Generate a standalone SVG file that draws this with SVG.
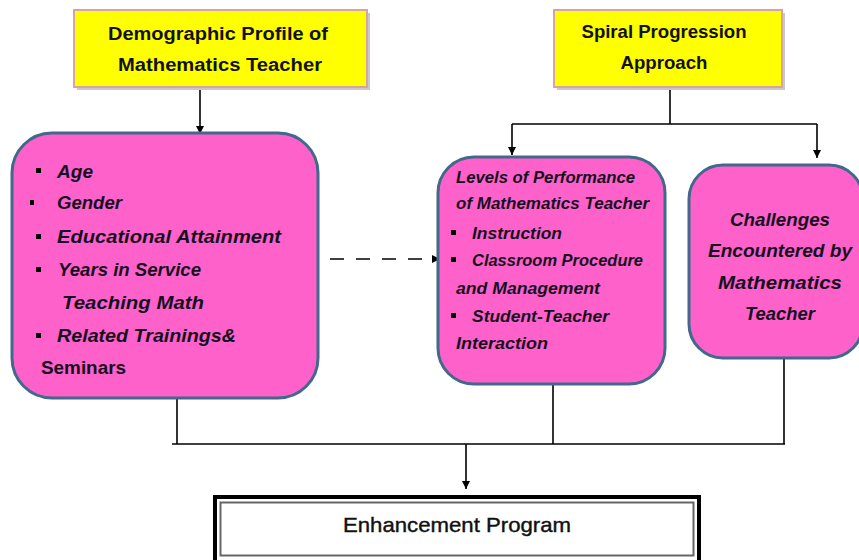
<svg xmlns="http://www.w3.org/2000/svg" width="859" height="560" viewBox="0 0 859 560">
<defs>
<marker id="ah" viewBox="0 0 10 10" refX="10" refY="5" markerWidth="8" markerHeight="9" markerUnits="userSpaceOnUse" orient="auto">
<path d="M0,0 L10,5 L0,10 z" fill="#000"/>
</marker>
<style>
.yel{fill:#FFFF00;stroke:#D9A3A3;stroke-width:2}
.shd{fill:#C8C8C8}
.pink{fill:#FF61CB;stroke:#41698C;stroke-width:3}
.yt{font-family:"Liberation Sans",Arial,sans-serif;font-weight:bold;font-size:18px;fill:#111;text-anchor:middle}
.it{font-family:"Liberation Sans",Arial,sans-serif;font-weight:bold;font-style:italic;fill:#141022}
.b1{font-size:18px}
.b2{font-size:16.5px}
.b3{font-size:19px;text-anchor:middle}
.rom{font-style:normal}
.bul{fill:#000}
.ln{stroke:#000;stroke-width:1.6;fill:none}
.et{font-family:"Liberation Sans",Arial,sans-serif;font-size:21px;fill:#111;stroke:#111;stroke-width:0.4;text-anchor:middle}
</style>
</defs>
<rect width="859" height="560" fill="#fff"/>

<g id="connectors">
<line class="ln" x1="200" y1="88" x2="200" y2="134" marker-end="url(#ah)"/>
<polyline class="ln" points="670,88 670,124"/>
<polyline class="ln" points="512,124 817,124"/>
<line class="ln" x1="512" y1="124" x2="512" y2="155" marker-end="url(#ah)"/>
<line class="ln" x1="817" y1="124" x2="817" y2="158" marker-end="url(#ah)"/>
<line class="ln" x1="330" y1="259" x2="440" y2="259" stroke-dasharray="14,12" marker-end="url(#ah)"/>
<line class="ln" x1="177" y1="398" x2="177" y2="444"/>
<line class="ln" x1="553" y1="385" x2="553" y2="444"/>
<line class="ln" x1="784" y1="358" x2="784" y2="444"/>
<line class="ln" x1="172" y1="444" x2="785" y2="444" stroke-width="2"/>
<line class="ln" x1="466" y1="444" x2="466" y2="489" marker-end="url(#ah)"/>
</g>

<g id="demographic">
<rect class="shd" x="77" y="13" width="293" height="77"/>
<rect class="yel" x="74" y="10" width="293" height="77"/>
<text class="yt" x="218" y="40" textLength="220" lengthAdjust="spacingAndGlyphs">Demographic Profile of</text>
<text class="yt" x="220" y="71" textLength="204" lengthAdjust="spacingAndGlyphs">Mathematics Teacher</text>
</g>

<g id="spiral">
<rect class="shd" x="557" y="13" width="228" height="77"/>
<rect class="yel" x="554" y="10" width="228" height="77"/>
<text class="yt" x="664" y="38" textLength="165" lengthAdjust="spacingAndGlyphs">Spiral Progression</text>
<text class="yt" x="664" y="69" textLength="87" lengthAdjust="spacingAndGlyphs">Approach</text>
</g>

<g id="profile">
<rect class="pink" x="12" y="133" width="306" height="265" rx="40" ry="40"/>
<rect class="bul" x="36" y="168" width="5" height="5"/>
<text class="it b1" x="57" y="178" textLength="36" lengthAdjust="spacingAndGlyphs">Age</text>
<rect class="bul" x="30" y="200" width="4" height="5"/>
<text class="it b1" x="57" y="209" textLength="65" lengthAdjust="spacingAndGlyphs">Gender</text>
<rect class="bul" x="36" y="234" width="5" height="5"/>
<text class="it b1" x="57" y="243" textLength="224" lengthAdjust="spacingAndGlyphs">Educational Attainment</text>
<rect class="bul" x="36" y="267" width="5" height="5"/>
<text class="it b1" x="58" y="276" textLength="143" lengthAdjust="spacingAndGlyphs">Years in Service</text>
<text class="it b1" x="62" y="309" textLength="142" lengthAdjust="spacingAndGlyphs">Teaching Math</text>
<rect class="bul" x="36" y="333" width="5" height="5"/>
<text class="it b1" x="57" y="342" textLength="179" lengthAdjust="spacingAndGlyphs">Related Trainings&amp;</text>
<text class="it b1 rom" x="41" y="374" textLength="85" lengthAdjust="spacingAndGlyphs">Seminars</text>
</g>

<g id="levels">
<rect class="pink" x="438" y="157" width="227" height="227" rx="36" ry="36"/>
<text class="it b2" x="456" y="183" textLength="179" lengthAdjust="spacingAndGlyphs">Levels of Performance</text>
<text class="it b2" x="456" y="209" textLength="193" lengthAdjust="spacingAndGlyphs">of Mathematics Teacher</text>
<rect class="bul" x="451" y="230" width="5" height="5"/>
<text class="it b2" x="472" y="239" textLength="90" lengthAdjust="spacingAndGlyphs">Instruction</text>
<rect class="bul" x="451" y="257" width="5" height="5"/>
<text class="it b2" x="472" y="266" textLength="171" lengthAdjust="spacingAndGlyphs">Classroom Procedure</text>
<text class="it b2" x="456" y="294" textLength="144" lengthAdjust="spacingAndGlyphs">and Management</text>
<rect class="bul" x="451" y="313" width="5" height="5"/>
<text class="it b2" x="472" y="322" textLength="137" lengthAdjust="spacingAndGlyphs">Student-Teacher</text>
<text class="it b2" x="456" y="349" textLength="92" lengthAdjust="spacingAndGlyphs">Interaction</text>
</g>

<g id="challenges">
<rect class="pink" x="689" y="165" width="174" height="193" rx="34" ry="34"/>
<text class="it b3" x="780" y="226" textLength="100" lengthAdjust="spacingAndGlyphs">Challenges</text>
<text class="it b3" x="780" y="257" textLength="144" lengthAdjust="spacingAndGlyphs">Encountered by</text>
<text class="it b3" x="780" y="289" textLength="124" lengthAdjust="spacingAndGlyphs">Mathematics</text>
<text class="it b3" x="780" y="320" textLength="70" lengthAdjust="spacingAndGlyphs">Teacher</text>
</g>

<g id="enhancement">
<rect x="215" y="497" width="484" height="70" fill="#fff" stroke="#000" stroke-width="4"/>
<rect x="220.5" y="502.5" width="473" height="53" fill="none" stroke="#666" stroke-width="2"/>
<text class="et" x="457" y="532" textLength="228" lengthAdjust="spacingAndGlyphs">Enhancement  Program</text>
</g>
</svg>
